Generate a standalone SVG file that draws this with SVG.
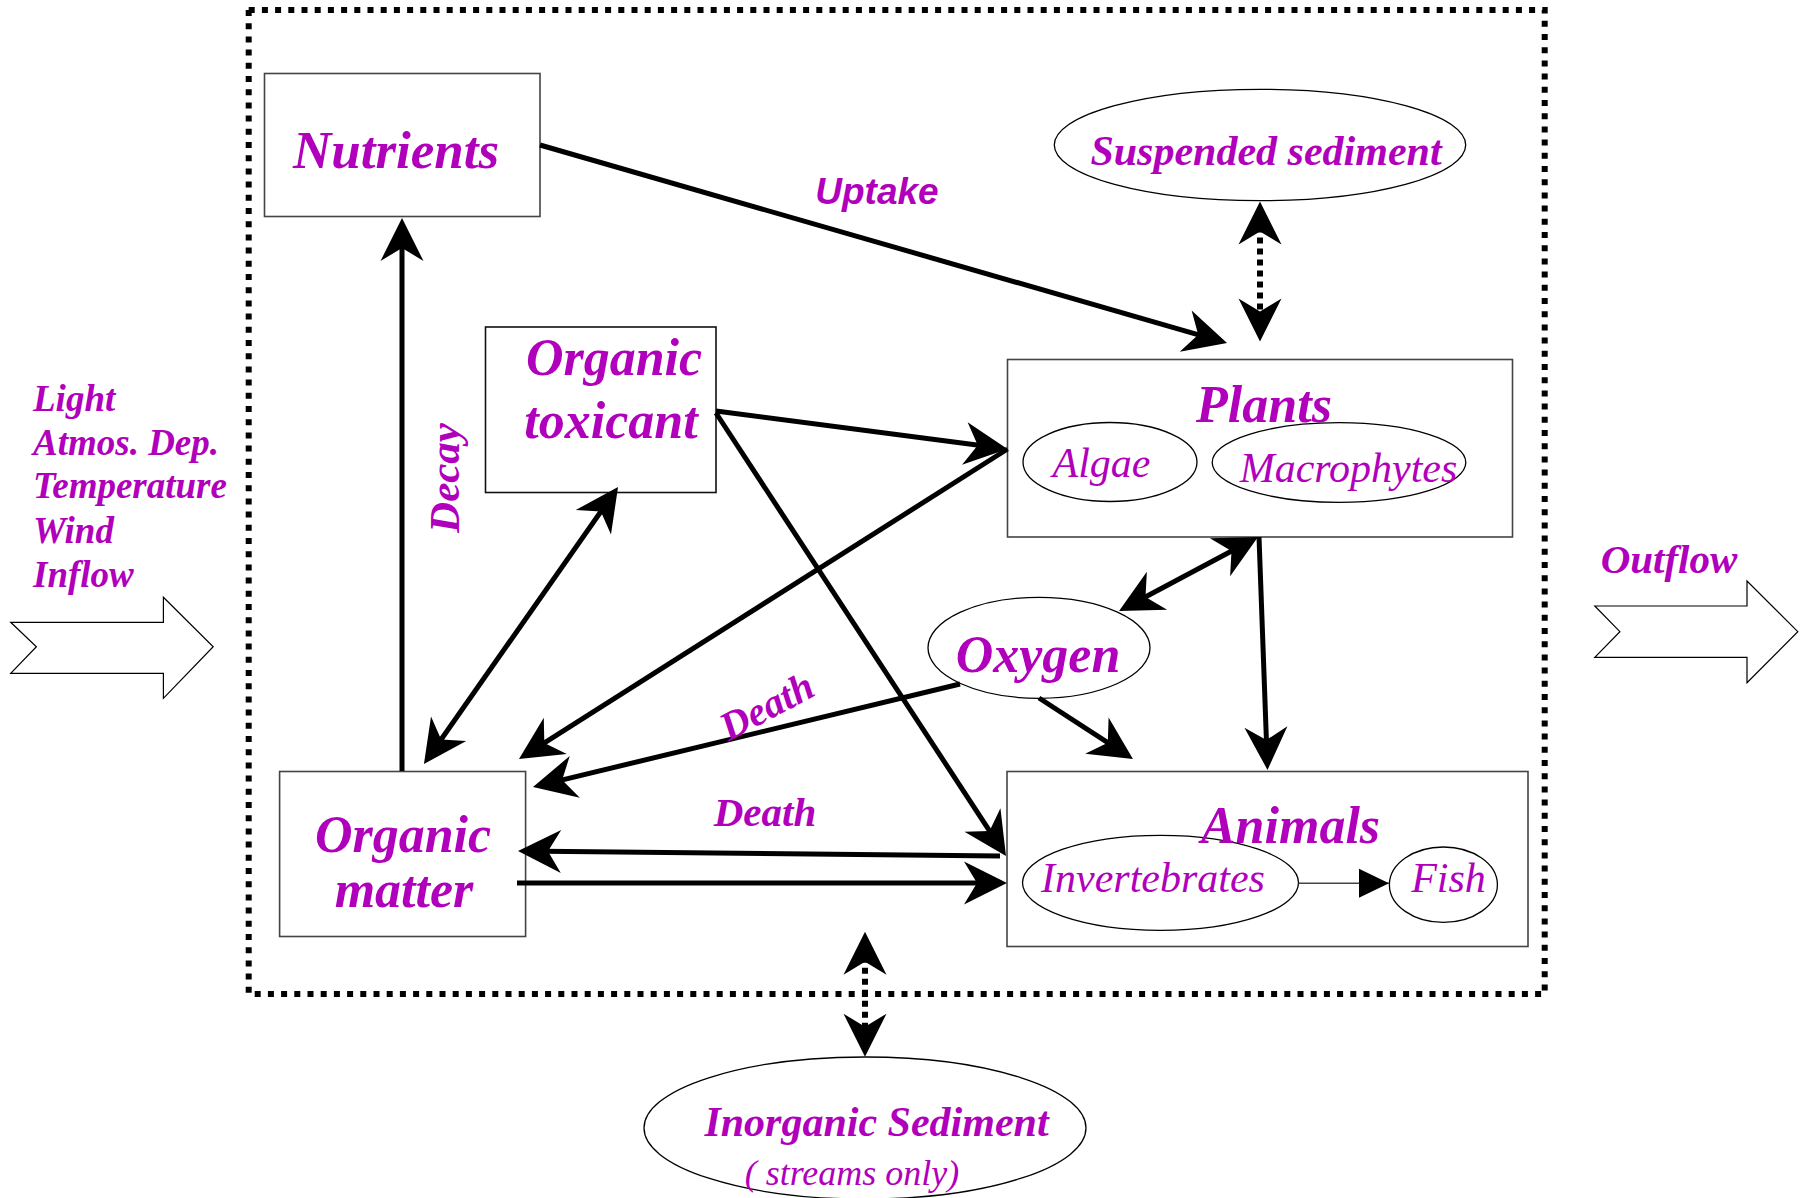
<svg xmlns="http://www.w3.org/2000/svg" width="1804" height="1198" viewBox="0 0 1804 1198">
<style>
.bg{fill:#fff}
.box{fill:#fff;stroke:#444;stroke-width:1.6}
.ell{fill:none;stroke:#000;stroke-width:1.3}
.big{font-family:"Liberation Serif","Times New Roman",serif;font-weight:bold;font-style:italic;fill:#b000bb}
.it{font-family:"Liberation Serif","Times New Roman",serif;font-style:italic;fill:#b000bb}
.sans{font-family:"Liberation Sans",Arial,sans-serif;font-weight:bold;font-style:italic;fill:#b000bb}
.conn{fill:none;stroke:#000;stroke-width:5}
.dot{fill:none;stroke:#000;stroke-width:6;stroke-dasharray:6 5}
.block{fill:#fff;stroke:#000;stroke-width:1.2}
</style>
<defs>
<marker id="ah" markerUnits="userSpaceOnUse" viewBox="-20 -23 47 46" refX="0" refY="0" markerWidth="47" markerHeight="46" orient="auto-start-reverse">
<path d="M25,0 L-18,-21.5 L-5,0 L-18,21.5 Z" fill="#000"/>
</marker>
<marker id="tri" markerUnits="userSpaceOnUse" viewBox="-32 -16 34 32" refX="0" refY="0" markerWidth="34" markerHeight="32" orient="auto">
<path d="M0,0 L-30,-14.5 L-30,14.5 Z" fill="#000"/>
</marker>
</defs>
<rect class="bg" x="0" y="0" width="1804" height="1198"/>

<g id="boundary">
<rect x="248.7" y="10" width="1296" height="984" fill="none" stroke="#000" stroke-width="6" stroke-dasharray="6 7.2"/>
</g>

<g id="inputs">
<text class="big" font-size="37" x="33" y="411">Light</text>
<text class="big" font-size="37" x="33" y="455">Atmos. Dep.</text>
<text class="big" font-size="37" x="33" y="498">Temperature</text>
<text class="big" font-size="37" x="33" y="543">Wind</text>
<text class="big" font-size="37" x="33" y="587">Inflow</text>
<polygon class="block" points="10.7,622.3 163.4,622.3 163.4,597.3 213.2,646.7 163.4,698.3 163.4,673.3 10.7,673.3 36.4,646.7"/>
</g>

<g id="outflow">
<text class="big" font-size="41" x="1669" y="573" text-anchor="middle">Outflow</text>
<polygon class="block" points="1594.8,606 1747,606 1747,581 1797.8,631.7 1747,682.7 1747,657.3 1594.8,657.3 1619.9,631.7"/>
</g>

<g id="nutrients">
<rect class="box" x="264.5" y="73.5" width="275.5" height="143"/>
<text class="big" x="396" y="168" font-size="53" text-anchor="middle">Nutrients</text>
</g>

<g id="organic-toxicant">
<rect class="box" x="485.5" y="327" width="230.5" height="165.5" style="stroke:#111"/>
<text class="big" x="614" y="375" font-size="52" text-anchor="middle">Organic</text>
<text class="big" x="611" y="438" font-size="52" text-anchor="middle">toxicant</text>
</g>

<g id="suspended-sediment">
<ellipse class="ell" cx="1260" cy="145" rx="205.7" ry="55.7"/>
<text class="big" x="1266" y="165" font-size="42" text-anchor="middle">Suspended sediment</text>
</g>

<g id="plants">
<rect class="box" x="1007.5" y="359.5" width="505" height="177.5"/>
<text class="big" x="1264" y="422" font-size="52" text-anchor="middle">Plants</text>
<g id="algae">
<ellipse class="ell" cx="1110" cy="462" rx="87" ry="39.5"/>
<text class="it" x="1101.5" y="477" font-size="42" text-anchor="middle">Algae</text>
</g>
<g id="macrophytes">
<ellipse class="ell" cx="1339" cy="462.5" rx="126.8" ry="39.8"/>
<text class="it" x="1348.5" y="482" font-size="42" text-anchor="middle">Macrophytes</text>
</g>
</g>

<g id="oxygen">
<ellipse class="ell" cx="1039" cy="647.8" rx="111" ry="50.5"/>
<text class="big" x="1038" y="672" font-size="52" text-anchor="middle">Oxygen</text>
</g>

<g id="organic-matter">
<rect class="box" x="279.6" y="771.5" width="246" height="165"/>
<text class="big" x="403" y="852" font-size="52" text-anchor="middle">Organic</text>
<text class="big" x="404" y="907" font-size="52" text-anchor="middle">matter</text>
</g>

<g id="animals">
<rect class="box" x="1007" y="771.5" width="521" height="175"/>
<g id="invertebrates">
<ellipse class="ell" cx="1160.5" cy="882.8" rx="138" ry="47.5"/>
<text class="it" x="1153" y="892" font-size="42" text-anchor="middle">Invertebrates</text>
</g>
<text class="big" x="1290.5" y="843" font-size="52" text-anchor="middle">Animals</text>
<g id="fish">
<ellipse class="ell" cx="1443.4" cy="884.7" rx="54" ry="37.7"/>
<text class="it" x="1448.5" y="892" font-size="42" text-anchor="middle">Fish</text>
</g>
</g>

<g id="inorganic-sediment">
<ellipse class="ell" cx="865" cy="1128" rx="221" ry="71"/>
<text class="big" x="876.5" y="1136" font-size="42" text-anchor="middle">Inorganic Sediment</text>
<text class="it" x="852" y="1185" font-size="36" text-anchor="middle">( streams only)</text>
</g>

<g id="connectors">
<path class="conn" d="M402,771 L402,243" marker-end="url(#ah)"/>
<path class="conn" d="M540,145 L1203,336.1" marker-end="url(#ah)"/>
<path class="conn" d="M603.7,507.5 L438.3,743.5" marker-start="url(#ah)" marker-end="url(#ah)"/>
<path class="conn" d="M716,411 L982.7,445.8" marker-end="url(#ah)"/>
<path class="conn" d="M716,413 L992.3,835.1" marker-end="url(#ah)"/>
<path class="conn" d="M1007.5,449 L540.1,745.6" marker-end="url(#ah)"/>
<path class="conn" d="M960,684 L557.3,781.1" marker-end="url(#ah)"/>
<path class="conn" d="M1235.9,548.7 L1141.1,599.3" marker-start="url(#ah)" marker-end="url(#ah)"/>
<path class="conn" d="M1259,537 L1266.6,745" marker-end="url(#ah)"/>
<path class="conn" d="M1039,698 L1112,745.4" marker-end="url(#ah)"/>
<path class="conn" d="M1000,856 L543,851.3" marker-end="url(#ah)"/>
<path class="conn" d="M517,883 L982,883" marker-end="url(#ah)"/>
<path class="dot" d="M1260,226.5 L1260,316.5" marker-start="url(#ah)" marker-end="url(#ah)"/>
<path class="dot" d="M865,956.7 L865,1031.7" marker-start="url(#ah)" marker-end="url(#ah)"/>
<path d="M1298.5,883.3 L1389,883.3" fill="none" stroke="#444" stroke-width="1.6" marker-end="url(#tri)"/>
<text class="sans" x="877" y="204" font-size="37" text-anchor="middle">Uptake</text>
<text class="big" font-size="43" text-anchor="middle" transform="translate(459,478) rotate(-90)">Decay</text>
<text class="big" font-size="40" text-anchor="middle" transform="translate(773,718) rotate(-28)">Death</text>
<text class="big" x="765" y="826" font-size="41" text-anchor="middle">Death</text>
</g>
</svg>
